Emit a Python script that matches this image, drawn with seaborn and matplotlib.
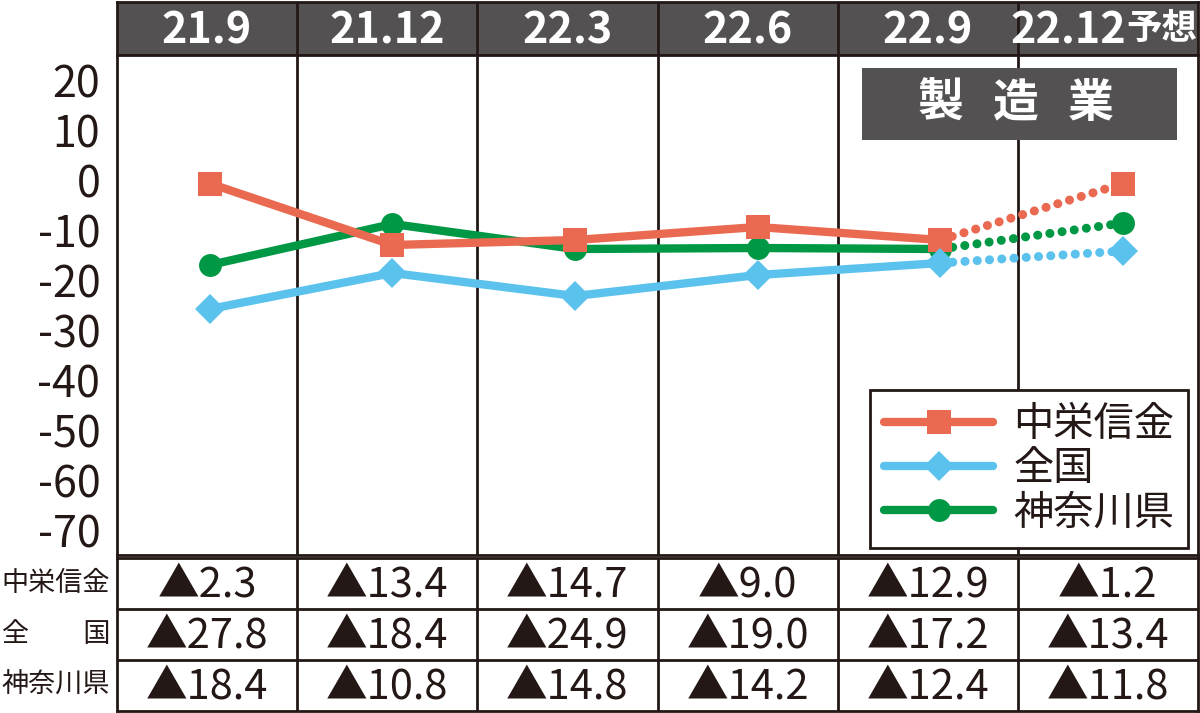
import matplotlib
matplotlib.use("Agg")
import matplotlib.pyplot as plt
import seaborn as sns
from matplotlib.lines import Line2D
from matplotlib.patches import Rectangle

# ---------------- data ----------------
periods = ["21.9", "21.12", "22.3", "22.6", "22.9", "22.12予想"]
series_names = ["中栄信金", "全国", "神奈川県"]
row_labels = ["中栄信金", "全　　国", "神奈川県"]

# positions of the marks as drawn in the chart
chuei = [-0.7, -13.0, -12.0, -9.4, -12.0, -0.7]
zenkoku = [-25.8, -18.6, -23.2, -19.0, -16.6, -14.2]
kanagawa = [-17.0, -8.8, -13.8, -13.6, -13.8, -8.6]

# values printed in the table (▲ = minus)
chuei_tbl = ["2.3", "13.4", "14.7", "9.0", "12.9", "1.2"]
zenkoku_tbl = ["27.8", "18.4", "24.9", "19.0", "17.2", "13.4"]
kanagawa_tbl = ["18.4", "10.8", "14.8", "14.2", "12.4", "11.8"]

y_ticks = [20, 10, 0, -10, -20, -30, -40, -50, -60, -70]
panel_title = ["製", "造", "業"]

# ---------------- style ----------------
RED = "#EA6A51"
BLUE = "#5BC2EE"
GREEN = "#009844"
GRAY = "#535152"
INK = "#231815"

sns.set_style("white")
plt.rcParams["font.family"] = ["Noto Sans CJK JP", "DejaVu Sans"]
plt.rcParams["axes.unicode_minus"] = False
NUM_FONT = ["Liberation Sans Narrow", "Noto Sans CJK JP", "DejaVu Sans"]

fig = plt.figure(figsize=(12, 7.13), dpi=100)
L = 117 / 1200
W = 1081 / 1200
x = list(range(len(periods)))
n = len(periods)


def frame(a):
    for s in a.spines.values():
        s.set_color(INK)
        s.set_linewidth(2)
    # column dividers, evenly spaced across the axes
    for k in range(1, n):
        a.plot([k / n, k / n], [0, 1], transform=a.transAxes, color=INK,
               lw=2, zorder=1, solid_capstyle="butt")


# ---------------- header row ----------------
axh = fig.add_axes([L, 1 - 55 / 713, W, 53 / 713])
axh.set_facecolor(GRAY)
axh.set_xlim(-0.5, 5.5)
axh.set_ylim(0, 1)
axh.set_xticks([])
axh.set_yticks([])
frame(axh)
for i, p in enumerate(periods[:-1]):
    axh.text(i, 0.47, p, ha="center", va="center", color="white",
             fontsize=31, fontweight="bold", family=NUM_FONT)
# last header: number + 予想 (tighter, like the original)
last = periods[-1]
axh.annotate(last[:-2], xy=(5, 0.47), xytext=(13, 0), textcoords="offset points",
             ha="right", va="center", color="white", fontsize=31,
             fontweight="bold", family=NUM_FONT)
axh.annotate(last[-2:], xy=(5, 0.47), xytext=(13, 1), textcoords="offset points",
             ha="left", va="center", color="white", fontsize=25.5,
             fontweight="bold")

# ---------------- line chart ----------------
ax = fig.add_axes([L, 1 - 555 / 713, W, 500 / 713])
ax.set_xlim(-0.508, 5.41)
ax.set_ylim(-75, 25)
ax.set_xticks([])
ax.set_yticks(y_ticks)
ax.set_yticklabels([str(v) for v in y_ticks], family=NUM_FONT)
ax.tick_params(axis="y", length=0, pad=12, labelsize=31, labelcolor=INK)
frame(ax)

styles = [
    (kanagawa, GREEN, "o", 16.5),
    (chuei, RED, "s", 17.5),
    (zenkoku, BLUE, "D", 15.5),
]
for vals, color, marker, ms in styles:
    sns.lineplot(x=x[:5], y=vals[:5], ax=ax, color=color, lw=6,
                 marker=marker, markersize=ms, markeredgewidth=0,
                 solid_capstyle="round", zorder=3)
    sns.lineplot(x=x[4:], y=vals[4:], ax=ax, color=color, lw=6.5,
                 linestyle=(0, (0.01, 1.35)), dash_capstyle="round", zorder=3)
    ax.plot(x[5], vals[5], marker=marker, markersize=ms, color=color,
            markeredgewidth=0, zorder=4)
ax.set_xlabel("")
ax.set_ylabel("")

# panel title box
ax.add_patch(Rectangle((0.689, 0.83), 0.292, 0.144, transform=ax.transAxes,
                       facecolor=GRAY, edgecolor="none", zorder=5))
for j, ch in enumerate(panel_title):
    ax.text(0.762 + j * 0.0694, 0.902, ch, transform=ax.transAxes, ha="center",
            va="center", color="white", fontsize=33, fontweight="bold", zorder=6)

# legend
handles = [
    Line2D([0], [0], color=RED, lw=6, marker="s", markersize=17.5,
           markeredgewidth=0, solid_capstyle="round"),
    Line2D([0], [0], color=BLUE, lw=6, marker="D", markersize=15.5,
           markeredgewidth=0, solid_capstyle="round"),
    Line2D([0], [0], color=GREEN, lw=6, marker="o", markersize=16.5,
           markeredgewidth=0, solid_capstyle="round"),
]
leg = ax.legend(handles, series_names, loc="upper right",
                bbox_to_anchor=(0.991, 0.33), fontsize=29, frameon=True,
                fancybox=False, edgecolor=INK, framealpha=1,
                handlelength=2.7, handletextpad=0.5, labelspacing=0.08,
                borderpad=0.35, borderaxespad=0)
leg.get_frame().set_linewidth(2)
leg.set_zorder(6)
for t in leg.get_texts():
    t.set_color(INK)

# ---------------- table rows ----------------
axt = fig.add_axes([L, 2 / 713, W, 153 / 713])
axt.set_xlim(-0.5, 5.5)
axt.set_ylim(3, 0)
axt.set_xticks([])
axt.set_yticks([])
frame(axt)
axt.axhline(1, color=INK, lw=2)
axt.axhline(2, color=INK, lw=2)
for r, (lab, row) in enumerate(zip(row_labels, [chuei_tbl, zenkoku_tbl, kanagawa_tbl])):
    axt.text(-0.538, r + 0.5, lab, ha="right", va="center", fontsize=19.5,
             color=INK, clip_on=False)
    for i, v in enumerate(row):
        axt.text(i, r + 0.52, "▲" + v, ha="center", va="center", fontsize=30,
                 color=INK)

fig.savefig("out.png", dpi=100)
